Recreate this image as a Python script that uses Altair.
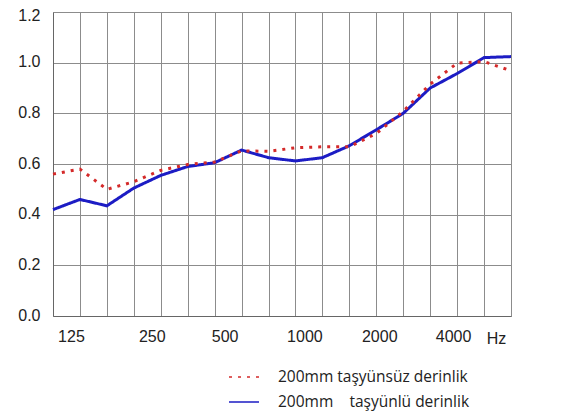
import altair as alt
import pandas as pd

bands = ["100", "125", "160", "200", "250", "315", "400", "500", "630",
         "800", "1000", "1250", "1600", "2000", "2500", "3150", "4000", "5000"]
shown_labels = ["125", "250", "500", "1000", "2000", "4000"]
label_shift = [-9, -9, -17, -18, -24, -31]

series_red = "200mm taşyünsüz derinlik"
series_blue = "200mm\u00a0\u00a0\u00a0\u00a0taşyünlü derinlik"

red_vals = [0.56, 0.58, 0.50, 0.53, 0.575, 0.598, 0.608, 0.652, 0.65,
            0.664, 0.668, 0.668, 0.72, 0.808, 0.915, 0.998, 1.004, 0.968]
blue_vals = [0.42, 0.46, 0.435, 0.505, 0.555, 0.59, 0.605, 0.655, 0.625,
             0.612, 0.625, 0.672, 0.735, 0.80, 0.90, 0.957, 1.02, 1.024]

rows = []
for b, v in zip(bands, blue_vals):
    rows.append({"band": b, "alpha": v, "series": series_blue, "ord": 0})
for b, v in zip(bands, red_vals):
    rows.append({"band": b, "alpha": v, "series": series_red, "ord": 1})
df = pd.DataFrame(rows)

label_expr = "indexof(" + str(shown_labels) + ", datum.label) >= 0 ? datum.label : ''"
offset_expr = " : ".join(
    f"datum.label == '{l}' ? {s}" for l, s in zip(shown_labels, label_shift)
) + " : 0"

chart = alt.Chart(df).mark_line(strokeWidth=3, strokeCap="butt").encode(
    x=alt.X("band:O", sort=bands,
            scale=alt.Scale(type="point", padding=0),
            axis=alt.Axis(title="Hz", labelExpr=label_expr, labelAngle=0,
                          labelOffset=alt.ExprRef(offset_expr),
                          labelPadding=12, ticks=False,
                          grid=True, gridColor="#8c8c8c", gridWidth=1,
                          domainColor="#666666", labelFontSize=16,
                          labelColor="#222222", titleFontSize=16,
                          titleFontWeight="normal", titleColor="#222222",
                          titleX=443, titleY=14, titleBaseline="top",
                          titleAlign="center")),
    y=alt.Y("alpha:Q", scale=alt.Scale(domain=[0, 1.2]),
            axis=alt.Axis(title=None, values=[0, 0.2, 0.4, 0.6, 0.8, 1.0, 1.2],
                          format=".1f", ticks=False, labelPadding=13,
                          labelOffset=alt.ExprRef("datum.value == 1.2 ? 3 : -1"),
                          grid=True, gridColor="#8c8c8c", gridWidth=1,
                          domainColor="#666666", labelFontSize=16,
                          labelColor="#222222")),
    color=alt.Color("series:N",
                    scale=alt.Scale(domain=[series_red, series_blue],
                                    range=["#d42a2a", "#1c1cc4"]),
                    legend=alt.Legend(title=None, orient="none",
                                      legendX=175, legendY=349,
                                      symbolType="stroke", symbolSize=900,
                                      symbolStrokeWidth=1.5, labelFontSize=15.5,
                                      labelFont="Open Sans",
                                      labelColor="#222222", labelOffset=18,
                                      labelLimit=400,
                                      rowPadding=0, padding=0)),
    strokeDash=alt.StrokeDash("series:N",
                              scale=alt.Scale(domain=[series_red, series_blue],
                                              range=[[3, 6], [1, 0]]),
                              legend=None),
    order=alt.Order("ord:Q"),
).properties(
    width=458, height=304,
    autosize=alt.AutoSizeParams(type="none"),
    padding={"left": 45, "top": 4, "right": 40, "bottom": 96},
).configure_view(stroke="#8c8c8c").configure(font="Liberation Sans")

chart.save("out.html", embed_options={"renderer": "svg", "actions": False})
